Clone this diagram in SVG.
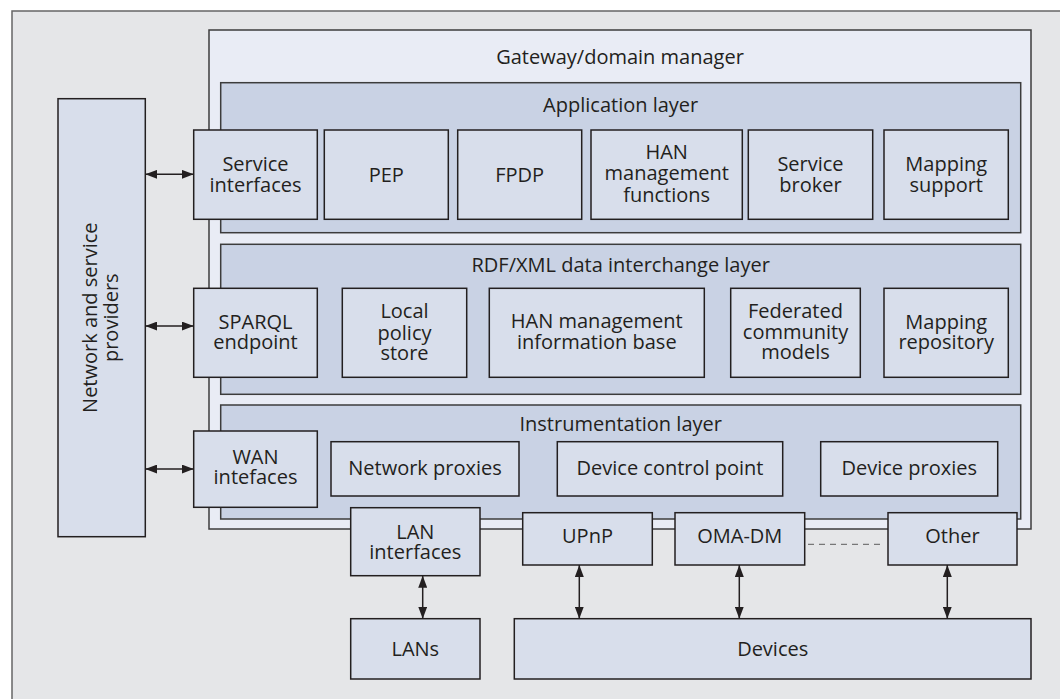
<svg xmlns="http://www.w3.org/2000/svg" width="1060" height="699" viewBox="0 0 1060 699">
<defs>
<style>
text{font-family:"Open Sans","Noto Sans","Liberation Sans",sans-serif;font-size:20px;fill:#231f20;text-anchor:middle}
.box{fill:#d8deeb;stroke:#231f20;stroke-width:1.5}
.layer{fill:#c9d2e4;stroke:#3c3c3c;stroke-width:1.5}
.gw{fill:#e9ecf5;stroke:#3c3c3c;stroke-width:1.5}
.conn{stroke:#231f20;stroke-width:1.5;fill:none}
</style>
<marker id="ah" viewBox="0 0 12 9" refX="12" refY="4.5" markerWidth="12" markerHeight="9" markerUnits="userSpaceOnUse" orient="auto-start-reverse">
<path d="M0,0 L12,4.5 L0,9 z" fill="#231f20"/>
</marker>
</defs>
<rect x="12" y="11" width="1060" height="700" fill="#e5e6e8" stroke="#666" stroke-width="1.5"/>

<g id="providers">
<rect class="box" x="58" y="98.7" width="87.3" height="438"/>
<text transform="rotate(-90 101.7 317.7)" x="101.7" y="313">Network and service</text>
<text transform="rotate(-90 101.7 317.7)" x="101.7" y="334">providers</text>
</g>

<g id="gateway">
<rect class="gw" x="209" y="30" width="822" height="499"/>
<text x="620" y="64.3">Gateway/domain manager</text>
</g>

<g id="app-layer">
<rect class="layer" x="220.7" y="82.7" width="800" height="150"/>
<text x="620.7" y="112">Application layer</text>
</g>
<g id="rdf-layer">
<rect class="layer" x="220.7" y="244.3" width="800" height="150"/>
<text x="620.7" y="271.7">RDF/XML data interchange layer</text>
</g>
<g id="instr-layer">
<rect class="layer" x="220.7" y="405" width="800" height="114"/>
<text x="620.7" y="430.7">Instrumentation layer</text>
</g>

<g id="service-interfaces">
<rect class="box" x="193.7" y="130" width="123.6" height="89.3"/>
<text x="255.5" y="170.7">Service</text><text x="255.5" y="191.7">interfaces</text>
</g>
<g id="pep">
<rect class="box" x="324.3" y="130" width="124" height="89.3"/>
<text x="386.3" y="181.7">PEP</text>
</g>
<g id="fpdp">
<rect class="box" x="457.7" y="130" width="124" height="89.3"/>
<text x="519.7" y="181.7">FPDP</text>
</g>
<g id="han-functions">
<rect class="box" x="591" y="130" width="151.3" height="89.3"/>
<text x="666.7" y="159.3">HAN</text><text x="666.7" y="180">management</text><text x="666.7" y="201.7">functions</text>
</g>
<g id="service-broker">
<rect class="box" x="748.3" y="130" width="124.4" height="89.3"/>
<text x="810.5" y="170.7">Service</text><text x="810.5" y="191.7">broker</text>
</g>
<g id="mapping-support">
<rect class="box" x="884" y="130" width="124.3" height="89.3"/>
<text x="946.2" y="170.7">Mapping</text><text x="946.2" y="191.7">support</text>
</g>

<g id="sparql">
<rect class="box" x="193.7" y="288.3" width="123.6" height="89"/>
<text x="255.5" y="329.3">SPARQL</text><text x="255.5" y="349.3">endpoint</text>
</g>
<g id="local-policy">
<rect class="box" x="342.3" y="288.3" width="124.4" height="89"/>
<text x="404.5" y="318.3">Local</text><text x="404.5" y="340">policy</text><text x="404.5" y="360">store</text>
</g>
<g id="han-mib">
<rect class="box" x="489.3" y="288.3" width="215" height="89"/>
<text x="596.8" y="328.3">HAN management</text><text x="596.8" y="349.3">information base</text>
</g>
<g id="federated">
<rect class="box" x="730.7" y="288.3" width="129.6" height="89"/>
<text x="795.5" y="317.7">Federated</text><text x="795.5" y="339.3">community</text><text x="795.5" y="359.3">models</text>
</g>
<g id="mapping-repo">
<rect class="box" x="884" y="288.3" width="124.3" height="89"/>
<text x="946.2" y="329.3">Mapping</text><text x="946.2" y="349.3">repository</text>
</g>

<g id="wan">
<rect class="box" x="193.7" y="431" width="123.6" height="76.3"/>
<text x="255.5" y="464">WAN</text><text x="255.5" y="484.3">intefaces</text>
</g>
<g id="network-proxies">
<rect class="box" x="331" y="441.7" width="188" height="54.3"/>
<text x="425" y="475">Network proxies</text>
</g>
<g id="device-control">
<rect class="box" x="557.3" y="441.7" width="225.4" height="54.3"/>
<text x="670" y="475">Device control point</text>
</g>
<g id="device-proxies">
<rect class="box" x="820.7" y="441.7" width="177" height="54.3"/>
<text x="909.2" y="475">Device proxies</text>
</g>

<g id="lan-interfaces">
<rect class="box" x="350.7" y="507.7" width="129.3" height="68"/>
<text x="415.3" y="539.3">LAN</text><text x="415.3" y="559">interfaces</text>
</g>
<g id="upnp">
<rect class="box" x="522.7" y="512.7" width="129.6" height="52.3"/>
<text x="587.5" y="542.7">UPnP</text>
</g>
<g id="oma-dm">
<rect class="box" x="675" y="512.7" width="129.7" height="52.3"/>
<text x="739.8" y="542.7">OMA-DM</text>
</g>
<g id="other">
<rect class="box" x="888" y="512.7" width="129" height="52.3"/>
<text x="952.5" y="542.7">Other</text>
</g>
<g id="lans">
<rect class="box" x="350.7" y="618.7" width="129.3" height="60.3"/>
<text x="415.3" y="656">LANs</text>
</g>
<g id="devices">
<rect class="box" x="514.3" y="618.7" width="516.7" height="60.3"/>
<text x="772.7" y="656">Devices</text>
</g>

<g id="connectors">
<line class="conn" x1="145.3" y1="174.3" x2="193.7" y2="174.3" marker-start="url(#ah)" marker-end="url(#ah)"/>
<line class="conn" x1="145.3" y1="326" x2="193.7" y2="326" marker-start="url(#ah)" marker-end="url(#ah)"/>
<line class="conn" x1="145.3" y1="469" x2="193.7" y2="469" marker-start="url(#ah)" marker-end="url(#ah)"/>
<line class="conn" x1="422.7" y1="575.7" x2="422.7" y2="618.7" marker-start="url(#ah)" marker-end="url(#ah)"/>
<line class="conn" x1="579.3" y1="565" x2="579.3" y2="618.7" marker-start="url(#ah)" marker-end="url(#ah)"/>
<line class="conn" x1="739.3" y1="565" x2="739.3" y2="618.7" marker-start="url(#ah)" marker-end="url(#ah)"/>
<line class="conn" x1="947.3" y1="565" x2="947.3" y2="618.7" marker-start="url(#ah)" marker-end="url(#ah)"/>
<line x1="808" y1="544.3" x2="882" y2="544.3" stroke="#777" stroke-width="1.2" stroke-dasharray="6 5"/>
</g>
</svg>
